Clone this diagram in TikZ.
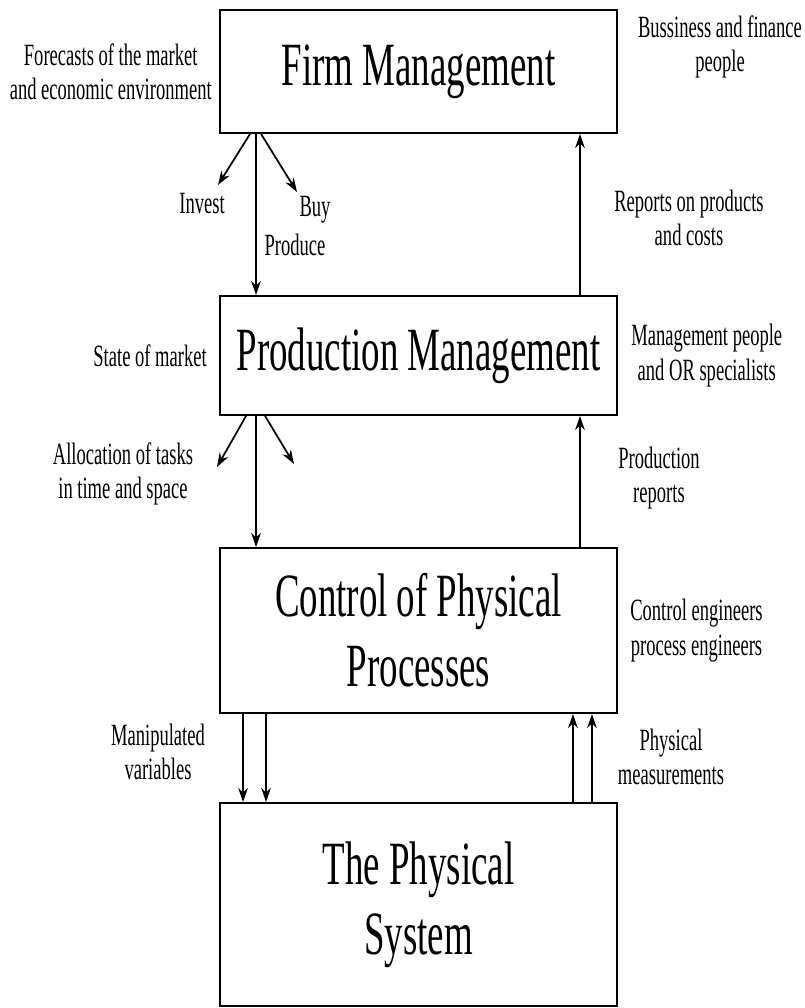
\documentclass[tikz,border=0pt]{standalone}
\usepackage{fontspec}
\setmainfont[FakeStretch=0.6]{Liberation Serif}
\usetikzlibrary{arrows.meta,positioning}

\begin{document}
\begin{tikzpicture}[
			x=0.02cm,y=-0.02cm,
			level/.style={draw,line width=1.1pt,minimum width=7.94cm,align=center,inner sep=0pt,font=\fontsize{35}{40}\selectfont},
			lbl/.style={align=center,inner sep=0pt,font=\fontsize{17.6}{19.5}\selectfont},
			arr/.style={-{Stealth[length=8pt,width=5.5pt]},line width=1pt}
			]
			\useasboundingbox (0,0) rectangle (805,1008);
			% the four levels
			\node[level,minimum height=2.46cm] (firm) at (418.5,71.5) {Firm Management};
			\node[level,minimum height=2.38cm] (prod) at (418.5,355.5) {Production Management};
			\node[level,minimum height=3.3cm] (ctrl) at (418.5,630.5) {Control of Physical\\Processes};
			\node[level,minimum height=4.06cm] (phys) at (418.5,904.5) {The Physical\\System};
			% labels
			\node[lbl,left=0.14cm of firm] (fore) {Forecasts of the market\\and economic environment};
			\node[lbl] (buss) at (720,47) {Bussiness and finance\\people};
			\node[lbl] (inv) at (202,204) {Invest};
			\node[lbl] (buy) at (315,210) {Buy};
			\node[lbl] (prd) at (295,245) {Produce};
			\node[lbl] (rep) at (689,218) {Reports on products\\and costs};
			\node[lbl,left=0.24cm of prod] (state) {State of market};
			\node[lbl,right=0.26cm of prod] (mgmt) {Management people\\and OR specialists};
			\node[lbl] (alloc) at (123,474) {Allocation of tasks\\in time and space};
			\node[lbl] (prep) at (659,478) {Production\\reports};
			\node[lbl,right=0.24cm of ctrl] (eng) {Control engineers\\process engineers};
			\node[lbl] (manip) at (158,752) {Manipulated\\variables};
			\node[lbl] (meas) at (671,757) {Physical\\measurements};
			% free ends of the side arrows
			\coordinate (inv-e) at (218,185);
			\coordinate (buy-e) at (297,192);
			\coordinate (alloc-e) at (217,467);
			\coordinate (side-e) at (294,464);
			% firm -> production
			\draw[arr] ([xshift=-3.25cm]firm.south)--([xshift=-3.25cm]prod.north);
			\draw[arr] ([xshift=-3.37cm]firm.south)--(inv-e);
			\draw[arr] ([xshift=-3.15cm]firm.south)--(buy-e);
			\draw[arr] ([xshift=3.23cm]prod.north)--([xshift=3.23cm]firm.south);
			% production -> control
			\draw[arr] ([xshift=-3.25cm]prod.south)--([xshift=-3.25cm]ctrl.north);
			\draw[arr] ([xshift=-3.45cm]prod.south)--(alloc-e);
			\draw[arr] ([xshift=-3.07cm]prod.south)--(side-e);
			\draw[arr] ([xshift=3.23cm]ctrl.north)--([xshift=3.23cm]prod.south);
			% control <-> physical system
			\draw[arr] ([xshift=-3.51cm]ctrl.south)--([xshift=-3.51cm]phys.north);
			\draw[arr] ([xshift=-3.05cm]ctrl.south)--([xshift=-3.05cm]phys.north);
			\draw[arr] ([xshift=3.09cm]phys.north)--([xshift=3.09cm]ctrl.south);
			\draw[arr] ([xshift=3.47cm]phys.north)--([xshift=3.47cm]ctrl.south);
		\end{tikzpicture}
\end{document}
